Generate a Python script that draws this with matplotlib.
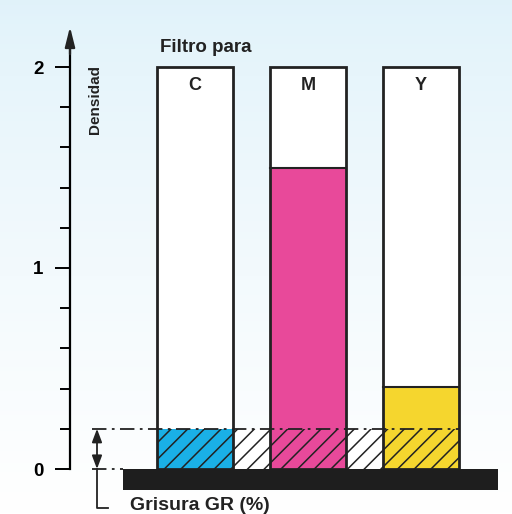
import matplotlib.pyplot as plt
import numpy as np

# densidad de cada filtro
filtros = ["C", "M", "Y"]
densidad = [0.2, 1.50, 0.41]
colores = ["#1ab0e6", "#e8499a", "#f5d62e"]
grisura = 0.2
dens_max = 2.0

plt.rcParams['font.family'] = ['Liberation Sans', 'DejaVu Sans']
plt.rcParams['hatch.linewidth'] = 1.1

W, H = 512, 514
fig = plt.figure(figsize=(W / 100, H / 100), dpi=100)

# fondo azul claro que se aclara hacia abajo
bg = fig.add_axes([0, 0, 1, 1])
grad = np.linspace(0, 1, 256).reshape(-1, 1)
top = np.array([0.88, 0.95, 0.98])
bot = np.array([1.0, 1.0, 1.0])
img = top[None, None, :] * (1 - grad[:, :, None] ** 0.8) + bot[None, None, :] * grad[:, :, None] ** 0.8
bg.imshow(img, aspect='auto', extent=[0, 1, 0, 1])
bg.axis('off')

# eje principal: x en pixeles, y en densidad
y0, ppu = 469, 201.0
ax = fig.add_axes([70 / W, 0, 1 - 70 / W, 1])
ax.set_xlim(70, W)
ax.set_ylim(-(H - y0) / ppu, y0 / ppu)
ax.patch.set_alpha(0)
for s in ['top', 'right', 'bottom']:
    ax.spines[s].set_visible(False)
ax.spines['left'].set_bounds(0, 2.1)
ax.spines['left'].set_linewidth(1.6)
ax.set_xticks([])
ax.set_yticks([0, 1, 2])
ax.set_yticklabels(["0", "1", "2"], fontsize=13.5, fontweight='bold')
ax.set_yticks(np.arange(0.2, 2.0, 0.2), minor=True)
ax.tick_params(axis='y', which='major', length=11, width=1.4, pad=8)
ax.tick_params(axis='y', which='minor', length=7, width=1.4)

# flecha del eje
ax.annotate("", xy=(70, (y0 - 24) / ppu), xytext=(70, 2.05),
            arrowprops=dict(arrowstyle='-|>,head_width=0.3,head_length=1.2',
                            color='#222222', lw=1.6))

ax.text(95, (y0 - 100) / ppu, "Densidad", rotation=90, ha='center', va='center',
        fontsize=11, fontweight='bold', color='#222222')
ax.text(160, (y0 - 47) / ppu, "Filtro para", ha='left', va='center',
        fontsize=13.5, fontweight='bold', color='#222222')

xs = [157, 270, 383]
bw = 76

# banda rayada de grisura
ax.add_patch(plt.Rectangle((xs[0], 0), xs[-1] + bw - xs[0], grisura,
                           facecolor='white', edgecolor='#222222', hatch='//', lw=0))

for x, f, d, c in zip(xs, filtros, densidad, colores):
    ax.add_patch(plt.Rectangle((x, 0), bw, dens_max, facecolor='white',
                               edgecolor='none'))
    ax.add_patch(plt.Rectangle((x, 0), bw, d, facecolor=c, edgecolor='none'))
    ax.add_patch(plt.Rectangle((x, 0), bw, grisura, facecolor='none',
                               edgecolor='#222222', hatch='//', lw=0))
    if d > grisura:
        ax.plot([x, x + bw], [d, d], color='#222222', lw=1.5)
    ax.add_patch(plt.Rectangle((x, 0), bw, dens_max, facecolor='none',
                               edgecolor='#222222', lw=2))
    ax.text(x + bw / 2, (y0 - 85) / ppu, f, ha='center', va='center',
            fontsize=13, fontweight='bold', color='#222222')

# lineas de trazo y punto
ax.plot([92, xs[-1] + bw], [grisura, grisura], color='#222222', lw=1.3,
        linestyle=(0, (8, 3, 1.5, 3)))
ax.plot([92, 123], [0, 0], color='#222222', lw=1.3, linestyle=(0, (8, 3, 1.5, 3)))

# base negra
ax.add_patch(plt.Rectangle((123, -21 / ppu), 498 - 123, 21 / ppu,
                           facecolor='#1e1e1e', edgecolor='none'))

# doble flecha de grisura
ax.annotate("", xy=(97, grisura), xytext=(97, 0),
            arrowprops=dict(arrowstyle='<|-|>,head_width=0.3,head_length=0.8',
                            color='#222222', lw=1.3, shrinkA=0, shrinkB=0))
ax.plot([97, 97, 108], [0, -39 / ppu, -39 / ppu], color='#222222', lw=1.3)
ax.text(130, -37 / ppu, "Grisura GR (%)", ha='left', va='center',
        fontsize=14, fontweight='bold', color='#222222')

fig.savefig("out.png", dpi=100)
